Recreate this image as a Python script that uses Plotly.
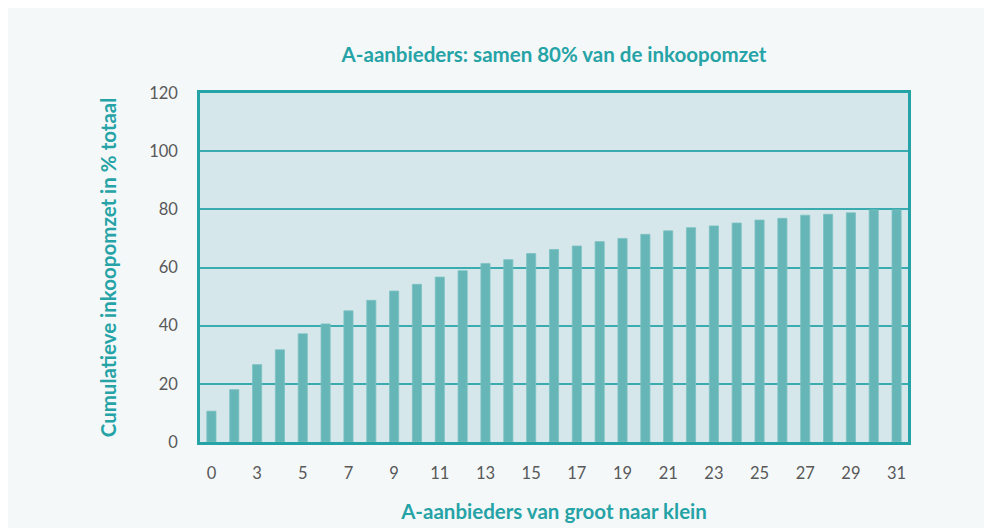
import plotly.graph_objects as go

categories = ["0"] + [str(i) for i in range(2, 32)]
values = [10.6, 18.0, 26.6, 31.7, 37.2, 40.6, 45.1, 48.7, 51.9, 54.2,
          56.7, 58.9, 61.4, 62.7, 64.8, 66.2, 67.4, 68.9, 70.0, 71.4,
          72.6, 73.7, 74.3, 75.3, 76.3, 76.9, 78.0, 78.3, 78.8, 79.8, 79.8]
tick_labels = [c if i % 2 == 0 else "" for i, c in enumerate(categories)]

title = "A-aanbieders: samen 80% van de inkoopomzet"
x_title = "A-aanbieders van groot naar klein"
y_title = "Cumulatieve inkoopomzet in % totaal"

teal = "#26a3a6"
font_family = "Lato, 'Open Sans', sans-serif"

OFF = 8  # page body margin
W, H = 992 - OFF, 528 - OFF
L, T = 200 - OFF, 93 - OFF
R = W + OFF - 908
B = H + OFF - 442

fig = go.Figure(go.Bar(
    x=list(range(len(categories))), y=values,
    marker=dict(color="#66b6b8", line=dict(color="#7cc2c3", width=0.8)),
    width=0.4,
))

fig.update_layout(
    width=W, height=H,
    margin=dict(l=L, r=R, t=T, b=B, autoexpand=False),
    paper_bgcolor="#f4f8f9",
    plot_bgcolor="#d5e7ea",
    showlegend=False,
    font=dict(family=font_family, size=16, color="#595959"),
    title=dict(text="<b>" + title + "</b>", x=(L + (W - L - R) / 2) / W, xanchor="center",
               y=1 - (55 - OFF) / H, yanchor="middle",
               font=dict(size=20.5, color=teal, family=font_family)),
)

fig.update_xaxes(
    tickmode="array", tickvals=list(range(len(categories))), ticktext=tick_labels,
    range=[-0.5, len(categories) - 0.5], automargin=False,
    showgrid=False, zeroline=False,
    showline=True, linecolor=teal, linewidth=2.5, mirror=True,
    ticks="", ticklabelstandoff=14,
    tickfont=dict(size=16.5, color="#595959"),
    title=dict(text="<b>" + x_title + "</b>", font=dict(size=20.5, color=teal), standoff=24),
)
fig.update_yaxes(
    range=[0, 120], tickvals=[0, 20, 40, 60, 80, 100, 120], automargin=False,
    showgrid=True, gridcolor="#3aabae", gridwidth=1.8,
    zeroline=False,
    showline=True, linecolor=teal, linewidth=2.5, mirror=True,
    ticks="", ticklabelstandoff=16,
    tickfont=dict(size=16.5, color="#595959"),
    title=dict(text="<b>" + y_title + "</b>", font=dict(size=20.5, color=teal), standoff=28),
)

fig.write_html("out.html")
